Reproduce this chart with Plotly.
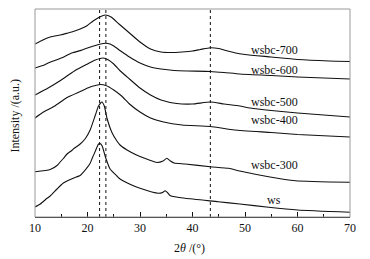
import plotly.graph_objects as go

# 2-theta positions (deg) and relative intensities (a.u., stacked offsets)
x_700 = [10, 11.5, 12.9, 15, 16.1, 17, 18.6, 19.9, 21, 22.4, 23.4, 24.5, 26, 28, 30, 32, 34, 36, 38, 40, 41.5, 43.4, 45, 46, 48, 50, 55, 60, 66, 70]
y_700 = [173, 177, 180, 182.3, 183.8, 185, 188, 191.3, 195.8, 200.3, 202, 200, 193, 184, 175, 168, 165, 164.5, 165, 166, 167.5, 169.3, 168.5, 167, 164.3, 162.5, 160, 157.5, 156, 155.5]

x_600 = [10, 11.5, 12.5, 15, 17, 19, 20, 21.5, 22.5, 23.4, 24.3, 25, 26.25, 28, 30, 32, 34, 36.5, 39, 43.4, 46, 49, 55, 60, 70]
y_600 = [149, 151.5, 154, 159, 164, 167, 169, 171.5, 173, 173.7, 173, 171, 166.3, 160, 154, 150, 148, 146.5, 146, 145.5, 144.5, 143, 141.5, 140, 138]

x_500 = [10, 12.5, 15, 17.5, 20, 21.5, 23, 24, 25, 26.25, 28, 30, 32, 34, 37, 40, 43.4, 46, 49, 51, 55, 60, 65, 70]
y_500 = [122, 129, 137, 146, 153, 157, 159, 157, 153, 146, 138, 129, 122, 117, 113.5, 113, 115, 113, 111, 109, 106.5, 104, 102, 100]

x_400 = [10, 11.6, 13.6, 15.4, 16.1, 18.6, 20.5, 21.5, 22.5, 23.5, 25, 26.5, 28, 30, 32, 34.5, 38, 43.4, 48, 55, 60, 70]
y_400 = [99, 105, 110.5, 117, 119.5, 125.5, 130, 131.5, 132.5, 131.5, 127, 121, 113, 105, 99, 95, 92, 90.5, 87, 84.5, 82.5, 80]

x_300 = [10, 12.9, 14.2, 14.8, 15.4, 16.1, 17, 17.4, 18.6, 19.6, 20.5, 21.5, 22.1, 22.75, 23.2, 23.7, 24.7, 25.6, 26.2, 28.2, 30, 32, 33.2, 34.4, 35.1, 35.8, 36.5, 38.6, 43.4, 46.9, 49, 54.5, 59.6, 70]
y_300 = [45.3, 47.5, 51.5, 55, 58.5, 63, 66.5, 68.5, 73, 78.5, 87, 102, 111, 115, 111, 99, 84, 76, 72, 65, 60.5, 56.5, 54.5, 56, 58.7, 56, 54, 53, 50.3, 48.7, 46, 40.3, 36.3, 34.7]

x_ws = [10, 11, 12.3, 12.9, 14.2, 15.4, 16.1, 17.4, 18.6, 19.3, 20.5, 20.9, 21.5, 22.1, 22.4, 22.8, 23.4, 24.3, 25.6, 26.2, 28.2, 30, 33.5, 34.3, 34.8, 35.3, 35.8, 38.6, 44.9, 49, 54.5, 60, 70]
y_ws = [10, 13, 18.7, 21, 28, 34, 36, 39, 41.5, 45.3, 53.7, 58.7, 66, 73, 73.5, 71, 60.3, 48, 41, 38, 32.5, 28.7, 23.7, 24.5, 26.2, 24, 21.3, 18.7, 15.3, 13, 9.7, 7, 4.7]

series_names = ["wsbc-700", "wsbc-600", "wsbc-500", "wsbc-400", "wsbc-300", "ws"]
series_x = [x_700, x_600, x_500, x_400, x_300, x_ws]
series_y = [y_700, y_600, y_500, y_400, y_300, y_ws]

label_x = [55.6, 55.6, 55.6, 55.6, 55.6, 55.6]
label_y = [167, 147, 115.5, 97, 52, 17]
label_text = ["wsbc-700", "wsbc-600", "wsbc-500", "wsbc-400", "wsbc-300", "ws"]

ref_lines = [22.3, 23.5, 43.4]

x_ticks = [10, 20, 30, 40, 50, 60, 70]

FONT = "Liberation Serif, Times New Roman, serif"

fig = go.Figure()
for nm, xs, ys in zip(series_names, series_x, series_y):
    fig.add_trace(go.Scatter(x=xs, y=ys, mode="lines", name=nm,
                             line=dict(color="#111111", width=1.1, shape="spline", smoothing=0.5),
                             showlegend=False, hoverinfo="skip"))

for xv in ref_lines:
    fig.add_shape(type="line", xref="x", yref="y domain", x0=xv, x1=xv, y0=0, y1=1,
                  line=dict(color="#111111", width=1, dash="3px,3px"))

fig.add_shape(type="rect", xref="paper", yref="paper", x0=0, x1=1, y0=0, y1=1,
              line=dict(color="#999999", width=1), layer="above")

for tx, ty, tt in zip(label_x, label_y, label_text):
    fig.add_annotation(x=tx, y=ty, text=tt, showarrow=False, xref="x", yref="y",
                       font=dict(family=FONT, size=12, color="#111111"))

# axis titles as annotations for exact placement
fig.add_annotation(x=0.49, y=-0.105, xref="paper", yref="paper", yanchor="top",
                   text="2<i>θ</i> /(°)", showarrow=False,
                   font=dict(family=FONT, size=12, color="#111111"))
fig.add_annotation(x=-0.062, y=0.49, xref="paper", yref="paper", xanchor="center",
                   text="Intensity /(a.u.)", showarrow=False, textangle=-90,
                   font=dict(family=FONT, size=12, color="#111111"))

# the page body adds an 8px offset, so the figure is sized/margined to compensate
fig.update_layout(
    width=362, height=251,
    margin=dict(l=27, r=20, t=1, b=42),
    paper_bgcolor="white", plot_bgcolor="white",
    font=dict(family=FONT, size=12, color="#111111"),
    xaxis=dict(range=[10, 70], tickvals=x_ticks, ticktext=[str(v) for v in x_ticks],
               ticks="inside", ticklen=5, tickwidth=1, tickcolor="#111111",
               minor=dict(dtick=5, tick0=10, ticks="inside", ticklen=3, tickcolor="#111111"),
               showline=True, linecolor="#111111", linewidth=1, mirror=False,
               showgrid=False, zeroline=False, automargin=False,
               tickfont=dict(family=FONT, size=12)),
    yaxis=dict(range=[0, 208], showticklabels=False, ticks="", showgrid=False, zeroline=False,
               showline=False, automargin=False),
)

fig.write_html("out.html")
